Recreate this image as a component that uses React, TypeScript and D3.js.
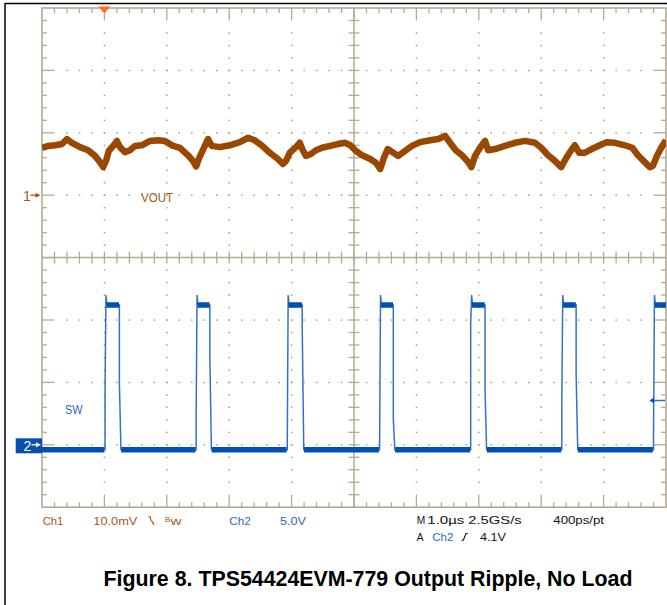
import React from "react";
import * as d3 from "d3";

// ---------- data ----------
// Ch1 (VOUT), time in µs relative to trigger, value in mV relative to Ch1 ground marker
const voutTime = [-1.0, -0.9, -0.79, -0.68, -0.6, -0.52, -0.39, -0.26, -0.15, -0.07, -0.02, 0.03, 0.07, 0.15, 0.2, 0.25, 0.33, 0.41, 0.49, 0.6, 0.73, 0.86, 0.97, 1.08, 1.21, 1.34, 1.42, 1.47, 1.52, 1.6, 1.66, 1.72, 1.85, 2.01, 2.17, 2.3, 2.41, 2.53, 2.65, 2.78, 2.86, 2.91, 2.97, 3.07, 3.13, 3.18, 3.23, 3.31, 3.39, 3.49, 3.62, 3.74, 3.86, 3.94, 4.02, 4.13, 4.26, 4.35, 4.42, 4.48, 4.54, 4.63, 4.71, 4.82, 4.93, 5.06, 5.22, 5.35, 5.46, 5.54, 5.63, 5.73, 5.83, 5.88, 5.94, 6.02, 6.1, 6.15, 6.26, 6.42, 6.58, 6.74, 6.9, 7.0, 7.11, 7.22, 7.32, 7.38, 7.46, 7.54, 7.61, 7.7, 7.81, 7.94, 8.05, 8.18, 8.34, 8.46, 8.55, 8.66, 8.74, 8.79, 8.86, 8.94, 9.0];
const voutMv = [7.6, 7.9, 8.0, 8.2, 9.0, 8.4, 7.7, 7.2, 6.3, 5.3, 4.5, 5.6, 7.1, 8.0, 8.7, 7.7, 6.9, 7.2, 7.9, 8.0, 8.7, 8.8, 8.7, 8.0, 7.6, 6.4, 5.5, 4.6, 6.0, 7.7, 9.0, 7.9, 7.7, 8.0, 8.5, 9.2, 8.8, 7.9, 6.8, 5.8, 5.0, 5.5, 6.8, 7.7, 8.4, 7.2, 6.3, 6.6, 7.2, 7.6, 7.9, 8.2, 8.4, 8.0, 7.2, 6.4, 5.8, 5.2, 4.2, 6.0, 7.4, 6.8, 6.3, 7.1, 7.9, 8.5, 8.8, 9.0, 9.5, 8.4, 7.2, 6.4, 5.3, 4.5, 6.3, 7.6, 8.7, 7.2, 7.4, 7.9, 8.4, 8.7, 8.4, 7.6, 6.4, 5.5, 4.5, 5.6, 6.9, 8.0, 6.8, 6.8, 7.4, 8.0, 8.5, 8.4, 8.0, 7.6, 6.4, 5.3, 4.5, 4.7, 6.4, 7.9, 8.8];

// Ch2 (SW) switching pulses, times in µs, levels in V
const swRise = [0.01, 1.47, 2.93, 4.41, 5.87, 7.33, 8.8];
const swFall = [0.24, 1.69, 3.17, 4.63, 6.1, 7.56, 9.3];
const swRiseKnee = [4.1, 2.2, 0.0, 0.0, 9.8, 3.2, 1.0];
const swFallKnee = [5.0, 7.0, 9.4, 2.0, 4.4, 5.6, 5.0];
const swLow = -0.4;
const swHigh = 11.2;
const swSpike = 12.0;

// channel settings
const ch1Scale = 10; // mV/div
const ch2Scale = 5; // V/div
const ch1Offset = 1; // div
const ch2Offset = -3; // div
const trigMarkV = 3.55;
const timeDomain = [-1, 9];
const divDomain = [-4, 4];

const bottomLabels1 = ["Ch1", "10.0mV", "Ch2", "5.0V", "M", "1.0µs", "2.5GS/s", "400ps/pt"];
const bottomLabels2 = ["A", "Ch2", "4.1V"];
const titleText = "Figure 8. TPS54424EVM-779 Output Ripple, No Load";

// ---------- layout ----------
const W = 667, H = 605;
const X0 = 42, X1 = 666, Y0 = 8, Y1 = 507.2;
const GRID = "#b3ab92";
const DOT = "#a8a086";
const BROWN = "#9a4800";
const BROWN_TXT = "#a5561c";
const BLUE = "#0050b2";
const BLUE_THIN = "#3570c8";
const BLUE_TXT = "#2e66c6";
const FONT = "'Liberation Sans', Arial, sans-serif";

export default function App() {
  const x = d3.scaleLinear().domain(timeDomain).range([X0, X1]);
  const yDiv = d3.scaleLinear().domain(divDomain).range([Y1, Y0]);
  const y1 = (mv: number) => yDiv(mv / ch1Scale + ch1Offset);
  const y2 = (v: number) => yDiv(v / ch2Scale + ch2Offset);
  const cx = x(4);
  const cy = yDiv(0);

  // graticule
  const xMinor = d3.range(0, 51).map((i) => ({ i, t: timeDomain[0] + i * 0.2 }));
  const yMinor = d3.range(0, 41).map((j) => ({ j, d: divDomain[0] + j * 0.2 }));
  const xMajor = d3.range(1, 10).filter((k) => k !== 5).map((k) => timeDomain[0] + k);
  const yMajor = d3.range(1, 8).filter((k) => k !== 4).map((k) => divDomain[0] + k);

  const ticks: JSX.Element[] = [];
  xMinor.forEach(({ i, t }) => {
    if (i === 0 || i === 50) return;
    const len = i % 5 === 0 ? 12.5 : 5;
    const px = x(t);
    ticks.push(<line key={"tt" + i} x1={px} x2={px} y1={Y0} y2={Y0 + len} />);
    ticks.push(<line key={"tb" + i} x1={px} x2={px} y1={Y1} y2={Y1 - len} />);
    ticks.push(<line key={"tc" + i} x1={px} x2={px} y1={cy - 6} y2={cy + 6} />);
  });
  yMinor.forEach(({ j, d }) => {
    if (j === 0 || j === 40) return;
    const len = j % 5 === 0 ? 12.5 : 5;
    const py = yDiv(d);
    ticks.push(<line key={"tl" + j} x1={X0} x2={X0 + len} y1={py} y2={py} />);
    ticks.push(<line key={"tr" + j} x1={X1} x2={X1 - len} y1={py} y2={py} />);
    ticks.push(<line key={"tcy" + j} x1={cx - 5.5} x2={cx + 5.5} y1={py} y2={py} />);
  });

  const dots: JSX.Element[] = [];
  xMajor.forEach((t, k) => {
    yMinor.forEach(({ j, d }) => {
      if (j < 2 || j > 38) return;
      dots.push(<rect key={"dv" + k + "_" + j} x={x(t) - 0.7} y={yDiv(d) - 0.7} width={1.5} height={1.5} />);
    });
  });
  yMajor.forEach((d, k) => {
    xMinor.forEach(({ i, t }) => {
      if (i < 2 || i > 48) return;
      dots.push(<rect key={"dh" + k + "_" + i} x={x(t) - 0.7} y={yDiv(d) - 0.7} width={1.5} height={1.5} />);
    });
  });

  // Ch1 trace
  const voutPts: [number, number][] = voutTime.map((t, i) => [t, voutMv[i]]);
  const voutLine = d3.line<[number, number]>().x((p) => x(p[0])).y((p) => y1(p[1]));

  // Ch2 trace
  const thinPts: [number, number][] = [[timeDomain[0], swLow]];
  swRise.forEach((r, i) => {
    thinPts.push([r, swLow]);
    if (swRiseKnee[i] > 0) thinPts.push([r, swRiseKnee[i]]);
    thinPts.push([r + 0.015, swSpike]);
    thinPts.push([r + 0.03, swHigh]);
    thinPts.push([swFall[i], swHigh]);
    thinPts.push([swFall[i], swFallKnee[i]]);
    thinPts.push([swFall[i] + 0.025, swLow]);
  });
  const swLine = d3.line<[number, number]>().x((p) => x(p[0])).y((p) => y2(p[1]));
  const lowSegs: [number, number][] = [];
  let prev = timeDomain[0];
  swRise.forEach((r, i) => {
    lowSegs.push([prev, r - 0.01]);
    prev = swFall[i] + 0.03;
  });
  const highSegs: [number, number][] = swRise.map((r, i) => [r + 0.02, swFall[i] - 0.005]);

  const trigY = y2(trigMarkV);

  return (
    <svg width={W} height={H} style={{ position: "absolute", left: 0, top: 0, background: "#fff" }}>
      <defs>
        <clipPath id="plotClip">
          <rect x={X0} y={Y0} width={X1 - X0} height={Y1 - Y0} />
        </clipPath>
      </defs>
      {/* outer figure frame */}
      <line x1={5} x2={W} y1={3.5} y2={3.5} stroke="#000" strokeWidth={1.5} />
      <line x1={5} x2={5} y1={3} y2={H} stroke="#000" strokeWidth={1.5} />

      {/* graticule */}
      <g fill={DOT}>{dots}</g>
      <g stroke={GRID} strokeWidth={1.3}>
        {ticks}
        <line x1={cx} x2={cx} y1={Y0} y2={Y1} strokeWidth={1.5} />
        <line x1={X0} x2={X1} y1={cy} y2={cy} strokeWidth={1.5} />
      </g>
      <rect x={X0} y={Y0} width={X1 - X0} height={Y1 - Y0} fill="none" stroke={GRID} strokeWidth={1.6} />

      {/* traces */}
      <g clipPath="url(#plotClip)">
        <path d={voutLine(voutPts) || ""} fill="none" stroke={BROWN} strokeWidth={6.5} strokeLinejoin="round" />
        <path d={swLine(thinPts) || ""} fill="none" stroke={BLUE_THIN} strokeWidth={1.5} />
        {lowSegs.map((s, i) => (
          <line key={"lo" + i} x1={x(s[0])} x2={x(s[1])} y1={y2(swLow)} y2={y2(swLow)} stroke={BLUE} strokeWidth={5.5} />
        ))}
        {highSegs.map((s, i) => (
          <line key={"hi" + i} x1={x(s[0])} x2={x(s[1])} y1={y2(swHigh)} y2={y2(swHigh)} stroke={BLUE} strokeWidth={5.5} />
        ))}
      </g>

      {/* trigger position marker */}
      <path d={`M${x(0) - 6},6.5 L${x(0) + 6},6.5 L${x(0)},13.5 Z`} fill="#ff6a28" />

      {/* trigger level marker */}
      <line x1={653} x2={665} y1={trigY} y2={trigY} stroke={BLUE_THIN} strokeWidth={1.5} />
      <path d={`M649.5,${trigY} L654,${trigY - 3} L654,${trigY + 3} Z`} fill={BLUE} />

      {/* channel 1 marker */}
      <text x={23} y={y1(0) + 5.5} fontFamily={FONT} fontSize={14} fill={BROWN_TXT}>1</text>
      <line x1={30.5} x2={37} y1={y1(0)} y2={y1(0)} stroke={BROWN_TXT} strokeWidth={1.3} />
      <path d={`M35.5,${y1(0) - 2.5} L40.5,${y1(0)} L35.5,${y1(0) + 2.5} Z`} fill={BROWN_TXT} />

      {/* channel 2 marker */}
      <rect x={15.7} y={y2(0) - 6.5} width={26.3} height={15} fill="#0a4fb0" />
      <text x={23.5} y={y2(0) + 6} fontFamily={FONT} fontSize={14} fill="#fff">2</text>
      <line x1={31.5} x2={37.5} y1={y2(0)} y2={y2(0)} stroke="#fff" strokeWidth={1.3} />
      <path d={`M36,${y2(0) - 2.5} L41,${y2(0)} L36,${y2(0) + 2.5} Z`} fill="#fff" />

      {/* trace labels */}
      <text x={141} y={202} fontFamily={FONT} fontSize={12} fill={BROWN_TXT} textLength={32} lengthAdjust="spacingAndGlyphs">VOUT</text>
      <text x={65} y={414} fontFamily={FONT} fontSize={12} fill={BLUE_TXT} textLength={17.5} lengthAdjust="spacingAndGlyphs">SW</text>

      {/* bottom readout */}
      <g fontFamily={FONT} fontSize={11.5}>
        <text x={42.7} y={525} fill={BROWN_TXT} textLength={20.7} lengthAdjust="spacingAndGlyphs">{bottomLabels1[0]}</text>
        <text x={93.3} y={525} fill={BROWN_TXT} textLength={44} lengthAdjust="spacingAndGlyphs">{bottomLabels1[1]}</text>
        <path d="M148.5,516.5 C151.5,516 150,520.5 151.3,520.8 C152.6,521 152.5,523 154,525" fill="none" stroke={BROWN_TXT} strokeWidth={1.2} />
        <text x={165} y={521.5} fill={BROWN_TXT} fontSize={8}>B</text>
        <text x={170.5} y={525} fill={BROWN_TXT} fontSize={11} textLength={11} lengthAdjust="spacingAndGlyphs">w</text>
        <text x={229.3} y={525} fill={BLUE_TXT} textLength={21.4} lengthAdjust="spacingAndGlyphs">{bottomLabels1[2]}</text>
        <text x={280} y={525} fill={BLUE_TXT} textLength={26} lengthAdjust="spacingAndGlyphs">{bottomLabels1[3]}</text>
        <text x={416.7} y={524} fill="#111" textLength={8.5} lengthAdjust="spacingAndGlyphs">{bottomLabels1[4]}</text>
        <text x={427.3} y={524} fill="#111" textLength={37} lengthAdjust="spacingAndGlyphs">{bottomLabels1[5]}</text>
        <text x={468.3} y={524} fill="#111" textLength={53.4} lengthAdjust="spacingAndGlyphs">{bottomLabels1[6]}</text>
        <text x={553.3} y={524} fill="#111" textLength={50.7} lengthAdjust="spacingAndGlyphs">{bottomLabels1[7]}</text>
        <text x={416.7} y={540.7} fill="#111" textLength={6.8} lengthAdjust="spacingAndGlyphs">{bottomLabels2[0]}</text>
        <text x={432.3} y={540.7} fill={BLUE_TXT} textLength={21} lengthAdjust="spacingAndGlyphs">{bottomLabels2[1]}</text>
        <path d="M461.5,540.2 H463.3 L466,533.5 H467.8" fill="none" stroke="#111" strokeWidth={1.1} />
        <text x={480} y={540.7} fill="#111" textLength={26} lengthAdjust="spacingAndGlyphs">{bottomLabels2[2]}</text>
      </g>

      {/* caption */}
      <text x={103.5} y={585.5} fontFamily={FONT} fontSize={21.5} fontWeight="bold" fill="#000" textLength={529} lengthAdjust="spacingAndGlyphs">{titleText}</text>
    </svg>
  );
}
